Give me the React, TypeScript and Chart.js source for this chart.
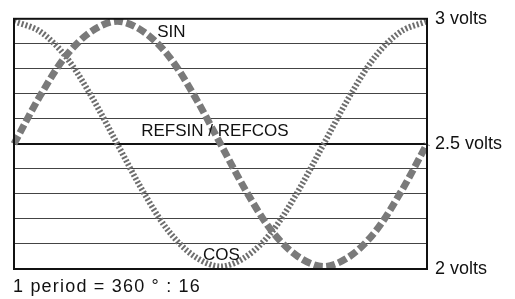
import React, { useEffect, useRef } from "react";
import { Chart, registerables } from "chart.js";

Chart.register(...registerables);

// 1 period = 360° split into 16 steps (17 sample points)
const angles = ["0", "22.5", "45", "67.5", "90", "112.5", "135", "157.5", "180", "202.5", "225", "247.5", "270", "292.5", "315", "337.5", "360"];
const sinValues = [2.5, 2.69, 2.85, 2.95, 2.99, 2.95, 2.85, 2.69, 2.5, 2.31, 2.15, 2.05, 2.01, 2.05, 2.15, 2.31, 2.5];
const cosValues = [2.99, 2.95, 2.85, 2.69, 2.5, 2.31, 2.15, 2.05, 2.01, 2.05, 2.15, 2.31, 2.5, 2.69, 2.85, 2.95, 2.99];
const voltTicks = [2, 2.5, 3];
const voltLabels = ["2 volts", "2.5 volts", "3 volts"];
const footnote = "1 period = 360 ° : 16";

const FONT = "'Liberation Sans', Arial, sans-serif";

const annotationPlugin = {
  id: "annotations",
  afterDatasetsDraw(chart: any) {
    const { ctx, scales } = chart;
    const x = scales.x;
    const y = scales.y;
    const items = [
      { text: "SIN", xi: 5.55, yv: 2.945 },
      { text: "REFSIN / REFCOS", xi: 4.93, yv: 2.55 },
      { text: "COS", xi: 7.32, yv: 2.053 },
    ];
    ctx.save();
    ctx.font = `17px ${FONT}`;
    ctx.fillStyle = "#111";
    ctx.textAlign = "left";
    ctx.textBaseline = "middle";
    for (const it of items) {
      ctx.fillText(it.text, x.getPixelForValue(it.xi), y.getPixelForValue(it.yv));
    }
    ctx.restore();
  },
  afterDraw(chart: any) {
    const { ctx, chartArea } = chart;
    ctx.save();
    ctx.strokeStyle = "#111";
    ctx.lineWidth = 2;
    ctx.strokeRect(chartArea.left, chartArea.top, chartArea.right - chartArea.left, chartArea.bottom - chartArea.top);
    ctx.font = `18px ${FONT}`;
    ctx.fillStyle = "#111";
    (ctx as any).letterSpacing = "1.2px";
    ctx.textAlign = "left";
    ctx.textBaseline = "alphabetic";
    ctx.fillText(footnote, chartArea.left - 1, chartArea.bottom + 23);
    ctx.restore();
  },
};

export default function App() {
  const ref = useRef<HTMLCanvasElement>(null);
  useEffect(() => {
    if (!ref.current) return;
    const chart = new Chart(ref.current, {
      type: "line",
      data: {
        labels: angles,
        datasets: [
          {
            label: "SIN",
            data: sinValues,
            borderColor: "#7a7a7a",
            borderWidth: 7,
            borderDash: [9, 3.5],
            borderCapStyle: "butt",
            pointRadius: 0,
            tension: 0.33,
            fill: false,
          },
          {
            label: "COS",
            data: cosValues,
            borderColor: "#6e6e6e",
            borderWidth: 6,
            borderDash: [2, 2],
            borderCapStyle: "butt",
            pointRadius: 0,
            tension: 0.33,
            fill: false,
          },
        ],
      },
      plugins: [annotationPlugin],
      options: {
        responsive: false,
        animation: false,
        layout: { padding: { left: 14, top: 14, right: 0, bottom: 30 } },
        plugins: { legend: { display: false }, tooltip: { enabled: false } },
        scales: {
          x: { display: false, offset: false },
          y: {
            position: "right",
            min: 2,
            max: 3,
            afterFit(scale: any) {
              scale.width = 88;
            },
            border: { display: false },
            grid: {
              color: (c: any) => (c.tick && Math.abs(c.tick.value - 2.5) < 1e-6 ? "#111" : "#444"),
              drawTicks: false,
              lineWidth: (c: any) => (c.tick && Math.abs(c.tick.value - 2.5) < 1e-6 ? 2 : 1),
            },
            ticks: {
              stepSize: 0.1,
              padding: 8,
              color: "#111",
              font: { family: FONT, size: 18 },
              callback: (v: any) => {
                const i = voltTicks.findIndex((t) => Math.abs(t - Number(v)) < 1e-6);
                return i >= 0 ? voltLabels[i] : "";
              },
            },
          },
        },
      },
    });
    return () => chart.destroy();
  }, []);
  return (
    <div style={{ position: "absolute", left: 0, top: 0, width: 515, height: 299, background: "#fff" }}>
      <canvas ref={ref} width={515} height={299} style={{ width: 515, height: 299 }} />
    </div>
  );
}
